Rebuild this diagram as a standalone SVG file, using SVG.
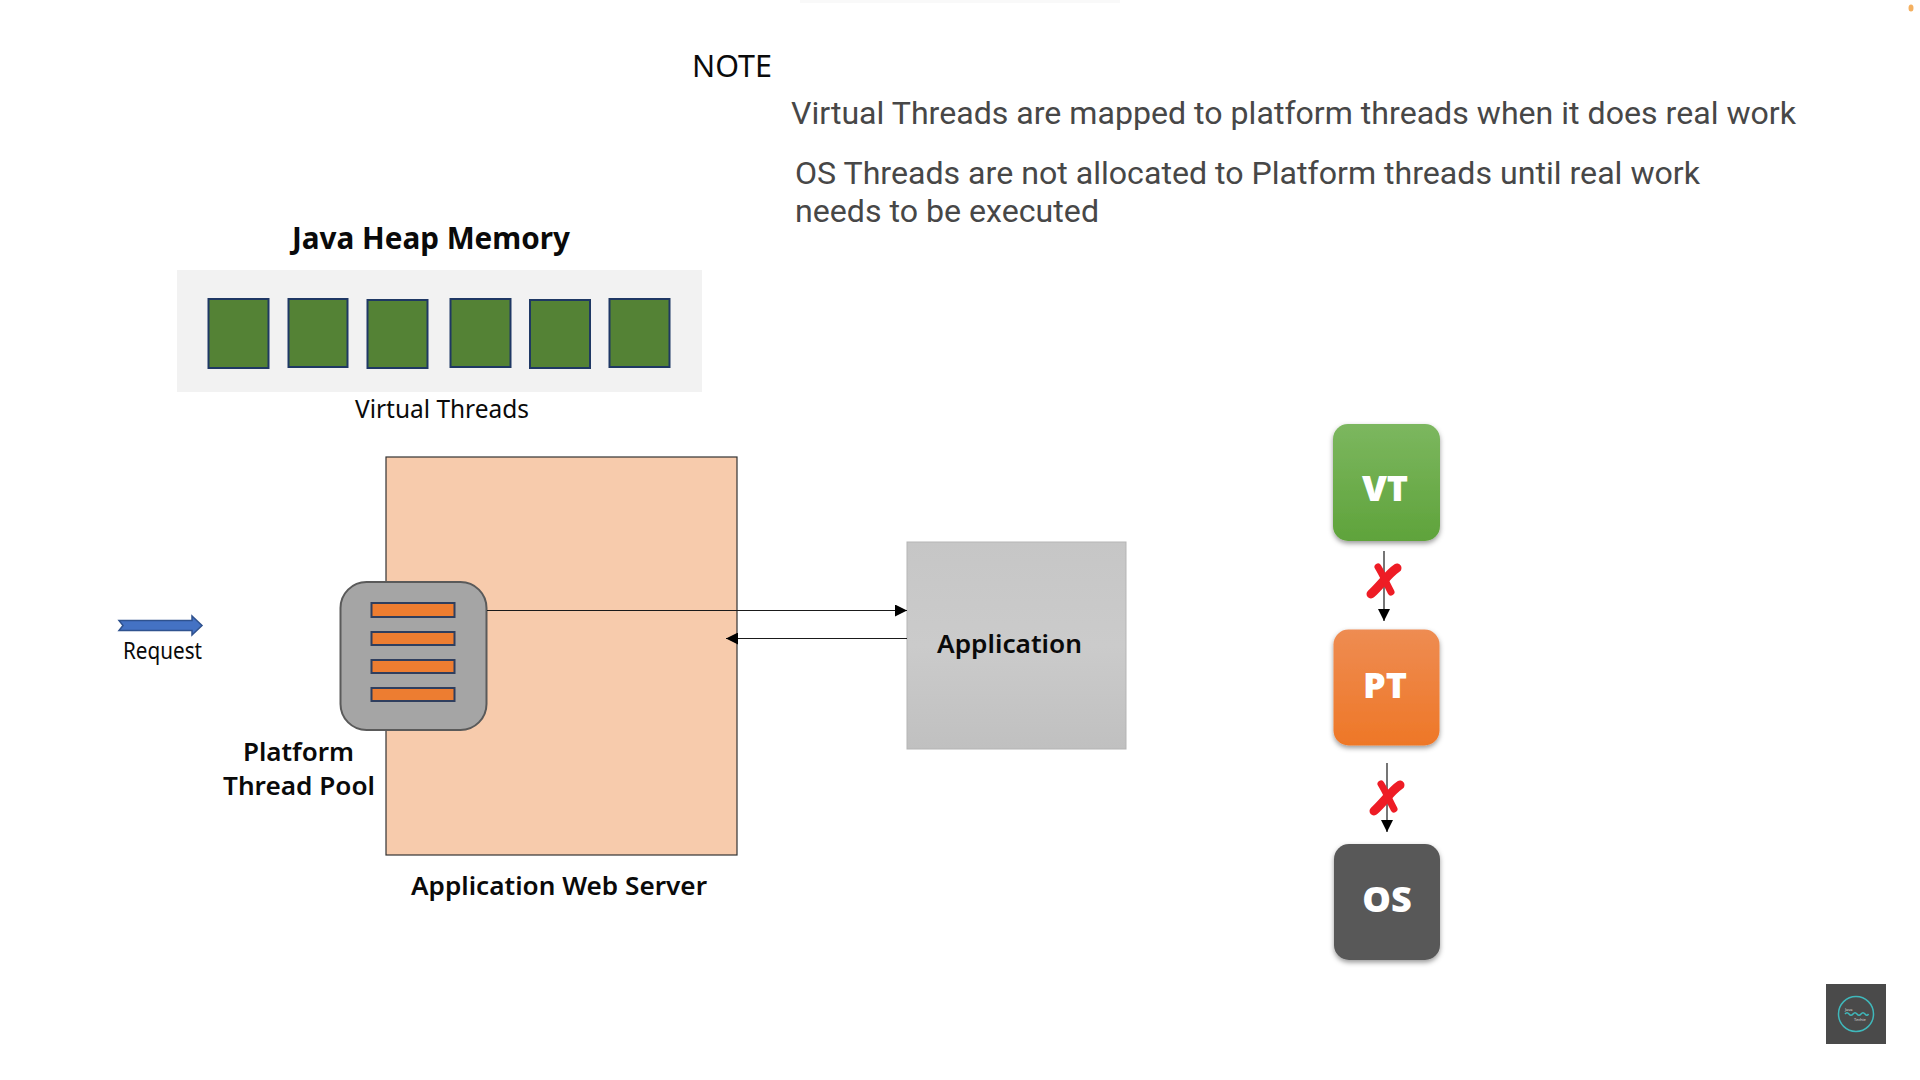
<svg xmlns="http://www.w3.org/2000/svg" width="1920" height="1080" viewBox="0 0 1920 1080">
<style>
text{font-family:"Noto Sans","Liberation Sans",sans-serif;fill:#0a0a0a}
.note{font-family:Roboto,"Liberation Sans",sans-serif;font-size:32px;fill:#474747}
.label{font-size:26px;font-weight:600}
.small{font-size:23px}
.heap{fill:#548235;stroke:#1f3864;stroke-width:2}
.bar{fill:#ed7d31;stroke:#2f3e5e;stroke-width:2}
.badge{font-family:"Open Sans","Liberation Sans",sans-serif;font-size:36px;font-weight:800;fill:#fff;text-anchor:middle}
.conn{fill:none;stroke:#1a1a1a;stroke-width:1.2}
.cross{fill:none;stroke:#ee1c25;stroke-linecap:round}
</style>
<defs>
<marker id="ah" markerUnits="userSpaceOnUse" markerWidth="13" markerHeight="12" refX="12" refY="6" orient="auto"><path d="M0 0L12 6L0 12z" fill="#000"/></marker>
<filter id="sh" x="-15%" y="-15%" width="130%" height="135%"><feDropShadow dx="0" dy="2.500" stdDeviation="2.500" flood-color="#000" flood-opacity=".4"/></filter>
<linearGradient id="gv" x1="0" y1="0" x2="0" y2="1"><stop offset="0" stop-color="#7cb75f"/><stop offset="1" stop-color="#5fa33b"/></linearGradient>
<linearGradient id="gp" x1="0" y1="0" x2="0" y2="1"><stop offset="0" stop-color="#ee8c52"/><stop offset="1" stop-color="#ee7727"/></linearGradient>
<linearGradient id="ga" x1="0" y1="0" x2="0" y2="1"><stop offset="0" stop-color="#c6c6c6"/><stop offset=".5" stop-color="#cbcbcb"/><stop offset="1" stop-color="#c0c0c0"/></linearGradient>
</defs>
<rect width="1920" height="1080" fill="#fff"/>
<rect x="800" y="0" width="320" height="3" fill="#f9f9f9"/>
<ellipse cx="1911" cy="8" rx="2.500" ry="3.500" fill="#f4b060"/>

<g id="note">
<text x="692" y="77" font-size="31" textLength="80" lengthAdjust="spacingAndGlyphs">NOTE</text>
<text class="note" x="791" y="124" textLength="1005" lengthAdjust="spacingAndGlyphs">Virtual Threads are mapped to platform threads when it does real work</text>
<text class="note" x="795" y="184" textLength="905" lengthAdjust="spacingAndGlyphs">OS Threads are not allocated to Platform threads until real work</text>
<text class="note" x="795" y="222" textLength="304" lengthAdjust="spacingAndGlyphs">needs to be executed</text>
</g>

<g id="heap-memory">
<text x="292" y="249" font-size="30" font-weight="700" textLength="278" lengthAdjust="spacingAndGlyphs">Java Heap Memory</text>
<rect x="177" y="270" width="525" height="122" fill="#f2f2f2"/>
<rect class="heap" x="208.500" y="299" width="60" height="69"/>
<rect class="heap" x="288.500" y="299" width="59" height="68"/>
<rect class="heap" x="367.500" y="300" width="60" height="68"/>
<rect class="heap" x="450.500" y="299" width="60" height="68"/>
<rect class="heap" x="530" y="300" width="60" height="68"/>
<rect class="heap" x="609.500" y="299" width="60" height="68"/>
<text x="355" y="418" font-size="25" textLength="174" lengthAdjust="spacingAndGlyphs">Virtual Threads</text>
</g>

<g id="request">
<path d="M119 620.500H192V616L202 625.500L192 635V630.500H119L123 625.500z" fill="#4472c4" stroke="#2f528f" stroke-width="1.500"/>
<text class="small" x="123" y="659" textLength="79" lengthAdjust="spacingAndGlyphs">Request</text>
</g>

<g id="web-server">
<rect x="386" y="457" width="351" height="398" fill="#f7cbac" stroke="#333" stroke-width="1.200"/>
<text class="label" x="411" y="895" textLength="296" lengthAdjust="spacingAndGlyphs">Application Web Server</text>
</g>

<g id="thread-pool">
<rect x="340.500" y="582" width="146" height="148" rx="26" fill="#a5a5a5" stroke="#5a5a5a" stroke-width="2"/>
<rect class="bar" x="371.500" y="603" width="83" height="14"/>
<rect class="bar" x="371.500" y="632" width="83" height="13"/>
<rect class="bar" x="371.500" y="660" width="83" height="13"/>
<rect class="bar" x="371.500" y="688" width="83" height="13"/>
<text class="label" x="243" y="761" textLength="111" lengthAdjust="spacingAndGlyphs">Platform</text>
<text class="label" x="223" y="795" textLength="152" lengthAdjust="spacingAndGlyphs">Thread Pool</text>
</g>

<g id="application">
<rect x="907" y="542" width="219" height="207" fill="url(#ga)" stroke="#b5b5b5"/>
<text class="label" x="937" y="653" textLength="145" lengthAdjust="spacingAndGlyphs">Application</text>
</g>

<g id="vt"><rect x="1333" y="424" width="107" height="117" rx="15" fill="url(#gv)" filter="url(#sh)"/><text class="badge" x="1385" y="501">VT</text></g>
<g id="pt"><rect x="1333.500" y="629.500" width="106" height="116" rx="15" fill="url(#gp)" filter="url(#sh)"/><text class="badge" x="1385" y="698">PT</text></g>
<g id="os"><rect x="1334" y="844" width="106" height="116" rx="15" fill="#595959" filter="url(#sh)"/><text class="badge" x="1387" y="912">OS</text></g>

<g id="connectors">
<path class="conn" d="M487 610.500H907" marker-end="url(#ah)"/>
<path class="conn" d="M907 638.500H726" marker-end="url(#ah)"/>
<path class="conn" d="M1384 551V621" marker-end="url(#ah)"/>
<path class="conn" d="M1387 763V832" marker-end="url(#ah)"/>
</g>

<g id="cross-1">
<path class="cross" stroke-width="9" d="M1371 594C1381 585 1388 574 1397 568"/>
<path class="cross" stroke-width="7" d="M1378 567C1383 575 1387 585 1391 592"/>
</g>
<g id="cross-2">
<path class="cross" stroke-width="9" d="M1374 811C1384 802 1391 791 1400 785"/>
<path class="cross" stroke-width="7" d="M1381 784C1386 792 1390 802 1394 809"/>
</g>

<g id="logo">
<rect x="1826" y="984" width="60" height="60" fill="#4a4a4a"/>
<circle cx="1856" cy="1014" r="17.500" fill="none" stroke="#3fb8bb" stroke-width="1.500"/>
<path d="M1845 1014q2-2.500 4 0t4 0t4 0t4 0t4 0t3.500 0" fill="none" stroke="#3fb8bb" stroke-width="1.500"/>
<text x="1845" y="1011" font-size="4" style="fill:#ddd">Java</text>
<text x="1854" y="1021" font-size="4" style="fill:#ddd">Techie</text>
</g>
</svg>
